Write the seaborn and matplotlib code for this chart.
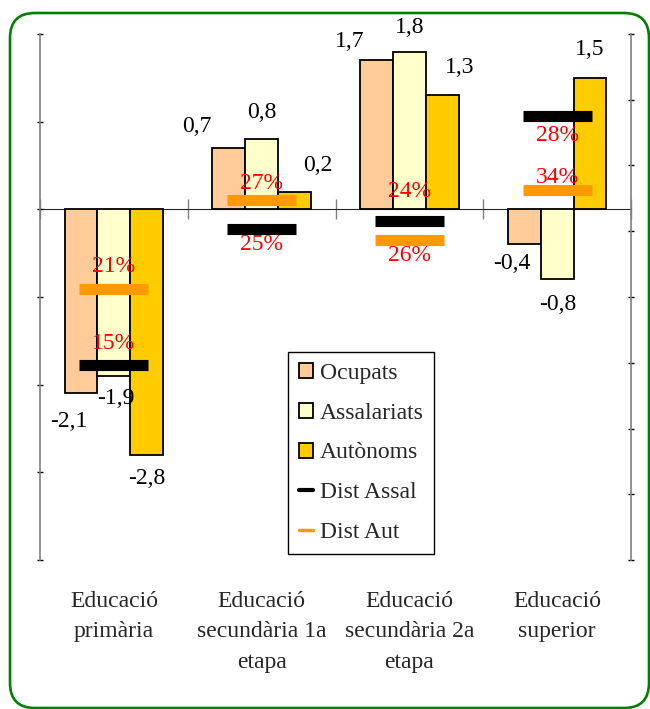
import matplotlib
matplotlib.use("Agg")
import matplotlib.pyplot as plt
from matplotlib.patches import Patch, FancyBboxPatch
from matplotlib.lines import Line2D
from matplotlib.transforms import IdentityTransform
import numpy as np
import pandas as pd
import seaborn as sns

# data
categories = ["Educació\nprimària", "Educació\nsecundària 1a\netapa",
              "Educació\nsecundària 2a\netapa", "Educació\nsuperior"]
series = ["Ocupats", "Assalariats", "Autònoms"]
ocupats = [-2.1, 0.7, 1.7, -0.4]
assalariats = [-1.9, 0.8, 1.8, -0.8]
autonoms = [-2.8, 0.2, 1.3, 1.5]
dist_assal = [0.148, 0.252, 0.258, 0.338]
dist_aut = [0.206, 0.274, 0.243, 0.281]

colors = ["#FFCC99", "#FFFFCC", "#FFCC00"]
c_assal = "#000000"
c_aut = "#FF9900"

df = pd.DataFrame({
    "nivell": categories * 3,
    "grup": np.repeat(series, 4),
    "valor": ocupats + assalariats + autonoms,
})

# label offsets in pixels (dx, dy up)
val_offsets = [
    [(-12, -28), (-32, 21), (-27, 19), (-12, -19)],
    [(2, -23), (0, 27), (0, 24), (1, -25)],
    [(0, -24), (23, 26), (17, 28), (0, 28)],
]
assal_lab_dy = [22, -16, -35, -62]
aut_lab_dy = [23, 16, 49, 55]

FS = 17

sns.set_style("white")
plt.rcParams["font.family"] = ["Liberation Serif", "DejaVu Serif"]
plt.rcParams["font.size"] = FS

fig = plt.figure(figsize=(6.5, 7.09), dpi=100)
ax = fig.add_axes([40 / 650, 1 - 560 / 709, 591 / 650, 526 / 709])

sns.barplot(data=df, x="nivell", y="valor", hue="grup", hue_order=series,
            palette=colors, saturation=1, edgecolor="black", linewidth=1.3,
            width=0.667, errorbar=None, legend=False, ax=ax)

ax.set_ylim(-4, 2)
ax.set_xlim(-0.5, 3.5)
ax.set_yticks(np.arange(-4, 3, 1))
ax.set_yticklabels([])
ax.tick_params(axis="y", direction="inout", length=5, width=1, color="black", left=True)
ax.tick_params(axis="x", length=0, pad=22, labelsize=FS)
for lab in ax.get_xticklabels():
    lab.set_linespacing(1.62)
ax.set_xlabel("")
ax.set_ylabel("")
for s in ["top", "bottom", "right"]:
    ax.spines[s].set_visible(False)
ax.spines["left"].set_color("#808080")
ax.spines["left"].set_linewidth(1.2)

# category axis at zero with boundary ticks
zero_frac = (0 - (-4)) / 6
sec = ax.secondary_xaxis(zero_frac)
sec.set_xticks(np.arange(-0.5, 4, 1))
sec.set_xticklabels([])
sec.tick_params(direction="inout", length=14, width=1, color="#808080")
sec.spines["bottom"].set_color("black")
sec.spines["bottom"].set_linewidth(1.2)

px = 0.72  # pixels -> points
for cont, offs in zip(ax.containers, val_offsets):
    for bar, (dx, dy) in zip(cont, offs):
        h = bar.get_height()
        xc = bar.get_x() + bar.get_width() / 2
        ax.annotate(f"{h:.1f}".replace(".", ","), (xc, h), xytext=(dx * px, dy * px),
                    textcoords="offset points", ha="center", va="center",
                    fontsize=FS, color="black")

# secondary axis for distributions
ax2 = ax.twinx()
ax2.set_ylim(0, 0.40)
ax2.set_yticks(np.arange(0, 0.401, 0.05))
ax2.set_yticklabels([])
ax2.tick_params(axis="y", direction="inout", length=5, width=1, color="black", right=True)
for s in ["top", "bottom", "left"]:
    ax2.spines[s].set_visible(False)
ax2.spines["right"].set_color("#808080")
ax2.spines["right"].set_linewidth(1.2)

xs = np.arange(len(categories))
ax2.hlines(dist_aut, xs - 0.233, xs + 0.233, colors=c_aut, linewidth=8)
ax2.hlines(dist_assal, xs - 0.233, xs + 0.233, colors=c_assal, linewidth=8)

for x, v, dy in zip(xs, dist_assal, assal_lab_dy):
    ax2.annotate(f"{v * 100:.0f}%", (x, v), xytext=(0, dy * px), textcoords="offset points",
                 ha="center", va="center", color="#FF0000", fontsize=FS)
for x, v, dy in zip(xs, dist_aut, aut_lab_dy):
    ax2.annotate(f"{v * 100:.0f}%", (x, v), xytext=(0, dy * px), textcoords="offset points",
                 ha="center", va="center", color="#FF0000", fontsize=FS)

handles = [Patch(facecolor=c, edgecolor="black", linewidth=1.3) for c in colors]
handles += [Line2D([], [], color=c_assal, lw=3), Line2D([], [], color=c_aut, lw=2.5)]
labels = series + ["Dist Assal", "Dist Aut"]
leg = ax2.legend(handles, labels, loc="upper left", bbox_to_anchor=(288 / 650, 1 - 352 / 709),
                 bbox_transform=fig.transFigure, borderaxespad=0, fancybox=False,
                 framealpha=1, edgecolor="black", handlelength=0.6, handleheight=0.6,
                 handletextpad=0.3, labelspacing=0.8, borderpad=0.45, fontsize=FS)
leg.get_frame().set_linewidth(1)

frame = FancyBboxPatch((10, 1), 639, 695, boxstyle="round,pad=0,rounding_size=25",
                       transform=IdentityTransform(), fill=False, edgecolor="#008000",
                       linewidth=1.9)
fig.add_artist(frame)

fig.savefig("out.png", dpi=100)
